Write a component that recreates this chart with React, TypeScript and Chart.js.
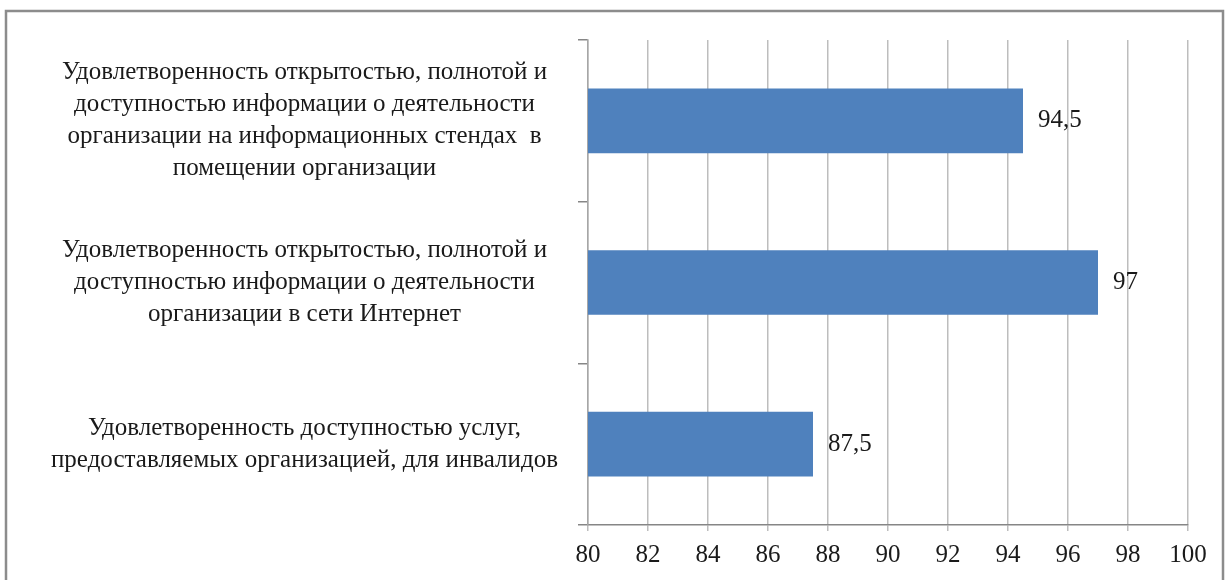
import React, { useEffect, useRef } from "react";
import { Chart, registerables } from "chart.js";

Chart.register(...registerables);

const categories: string[][] = [
  [
    "Удовлетворенность открытостью, полнотой и",
    "доступностью информации о деятельности",
    "организации на информационных стендах  в",
    "помещении организации",
  ],
  [
    "Удовлетворенность открытостью, полнотой и",
    "доступностью информации о деятельности",
    "организации в сети Интернет",
  ],
  [
    "Удовлетворенность доступностью услуг,",
    "предоставляемых организацией, для инвалидов",
  ],
];
const values: number[] = [94.5, 97, 87.5];
const axisMin = 80;
const axisMax = 100;
const axisStep = 2;

const FONT = "'Liberation Serif', 'Times New Roman', serif";
const BAR_COLOR = "#4F81BD";

const valueLabels = {
  id: "valueLabels",
  afterDatasetsDraw(chart: any) {
    const ctx = chart.ctx;
    const meta = chart.getDatasetMeta(0);
    ctx.save();
    ctx.font = `25px ${FONT}`;
    ctx.fillStyle = "#1a1a1a";
    ctx.textAlign = "left";
    ctx.textBaseline = "middle";
    meta.data.forEach((bar: any, i: number) => {
      const v = chart.data.datasets[0].data[i] as number;
      ctx.fillText(String(v).replace(".", ","), bar.x + 15, bar.y);
    });
    ctx.restore();
  },
};

const frame = {
  id: "frame",
  beforeDraw(chart: any) {
    const ctx = chart.ctx;
    ctx.save();
    ctx.fillStyle = "#ffffff";
    ctx.fillRect(0, 0, chart.width, chart.height);
    ctx.strokeStyle = "#8c8c8c";
    ctx.lineWidth = 2.5;
    ctx.beginPath();
    ctx.moveTo(6, chart.height + 10);
    ctx.lineTo(6, 11);
    ctx.lineTo(1223, 11);
    ctx.lineTo(1223, chart.height + 10);
    ctx.stroke();
    ctx.restore();
  },
};

export default function App() {
  const ref = useRef<HTMLCanvasElement | null>(null);

  useEffect(() => {
    document.body.style.margin = "0";
    const canvas = ref.current;
    if (!canvas) return;
    const chart = new Chart(canvas, {
      type: "bar",
      data: {
        labels: categories,
        datasets: [
          {
            data: values,
            backgroundColor: BAR_COLOR,
            borderWidth: 0,
            barPercentage: 0.4,
            categoryPercentage: 1,
          },
        ],
      },
      options: {
        indexAxis: "y",
        responsive: false,
        animation: false,
        devicePixelRatio: 1,
        layout: { padding: { top: 40, right: 39, left: 0, bottom: 0 } },
        plugins: {
          legend: { display: false },
          tooltip: { enabled: false },
          title: { display: false },
        },
        scales: {
          x: {
            type: "linear",
            min: axisMin,
            max: axisMax,
            ticks: {
              stepSize: axisStep,
              color: "#1a1a1a",
              font: { family: FONT, size: 25 },
              padding: 9,
              maxRotation: 0,
            },
            grid: {
              color: "#bdbdbd",
              lineWidth: 1.5,
              tickLength: 6,
              drawTicks: true,
            },
            border: { display: true, color: "#868686", width: 1.5 },
            afterFit(scale: any) {
              scale.height = 55;
              scale.paddingLeft = 0;
              scale.paddingRight = 0;
            },
          },
          y: {
            type: "category",
            offset: true,
            ticks: {
              color: "#1a1a1a",
              font: { family: FONT, size: 25, lineHeight: 1.28 },
              crossAlign: "center",
              padding: 20,
              autoSkip: false,
            },
            grid: {
              display: true,
              drawOnChartArea: false,
              offset: true,
              tickLength: 10,
              color: "#868686",
              lineWidth: 1.5,
            },
            border: { display: true, color: "#a6a6a6", width: 1.5 },
            afterFit(scale: any) {
              scale.width = 588;
              scale.paddingTop = 0;
              scale.paddingBottom = 0;
            },
          },
        },
      },
      plugins: [frame, valueLabels],
    });
    return () => chart.destroy();
  }, []);

  return (
    <div style={{ position: "absolute", left: 0, top: 0, width: 1227, height: 580 }}>
      <canvas ref={ref} width={1227} height={580} style={{ width: 1227, height: 580, display: "block" }} />
    </div>
  );
}
